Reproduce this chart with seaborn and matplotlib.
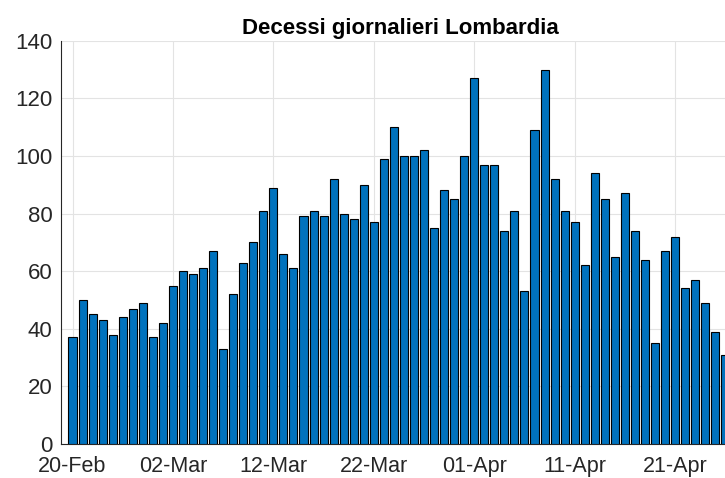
import matplotlib
matplotlib.use("Agg")
import matplotlib.pyplot as plt
import seaborn as sns
import pandas as pd

deaths = [37, 50, 45, 43, 38, 44, 47, 49, 37, 42,
          55, 60, 59, 61, 67, 33, 52, 63, 70, 81,
          89, 66, 61, 79, 81, 79, 92, 80, 78, 90,
          77, 99, 110, 100, 100, 102, 75, 88, 85, 100,
          127, 97, 97, 74, 81, 53, 109, 130, 92, 81,
          77, 62, 94, 85, 65, 87, 74, 64, 35, 67,
          72, 54, 57, 49, 39, 31]
day_index = list(range(len(deaths)))
tick_labels = ["20-Feb", "02-Mar", "12-Mar", "22-Mar", "01-Apr", "11-Apr", "21-Apr"]
tick_pos = [0, 10, 20, 30, 40, 50, 60]
y_ticks = [0, 20, 40, 60, 80, 100, 120, 140]
title = "Decessi giornalieri Lombardia"

sns.set_style("white")
plt.rcParams['font.family'] = ['Liberation Sans', 'DejaVu Sans']

df = pd.DataFrame({"day": day_index, "deaths": deaths})

fig = plt.figure(figsize=(7.25, 4.78), dpi=100)
ax = fig.add_axes([61 / 725, 1 - 444 / 478, (739.4 - 61) / 725, (444 - 40.7) / 478])
sns.barplot(data=df, x="day", y="deaths", color="#0072BD", saturation=1,
            width=0.8, edgecolor="black", linewidth=0.8, ax=ax, zorder=3)

ax.set_xlim(-1.145, 66.4)
ax.set_ylim(0, 140)
ax.set_xticks(tick_pos)
ax.set_xticklabels(tick_labels)
ax.set_yticks(y_ticks)
ax.set_xlabel("")
ax.set_ylabel("")
ax.grid(True, color="#E3E3E3", linewidth=0.8, zorder=0)
ax.set_axisbelow(True)
for s in ["top", "right"]:
    ax.spines[s].set_visible(False)
for s in ["left", "bottom"]:
    ax.spines[s].set_color("#262626")
    ax.spines[s].set_linewidth(0.8)
ax.tick_params(axis="both", direction="in", length=5, width=0.8, color="#262626",
               labelcolor="#262626", labelsize=16)
ax.tick_params(axis="x", pad=8.5, labelsize=15.5)
ax.tick_params(axis="y", pad=6)
ax.set_title(title, fontsize=16, fontweight="bold", pad=5, color="black")

fig.savefig("out.png", dpi=100)
